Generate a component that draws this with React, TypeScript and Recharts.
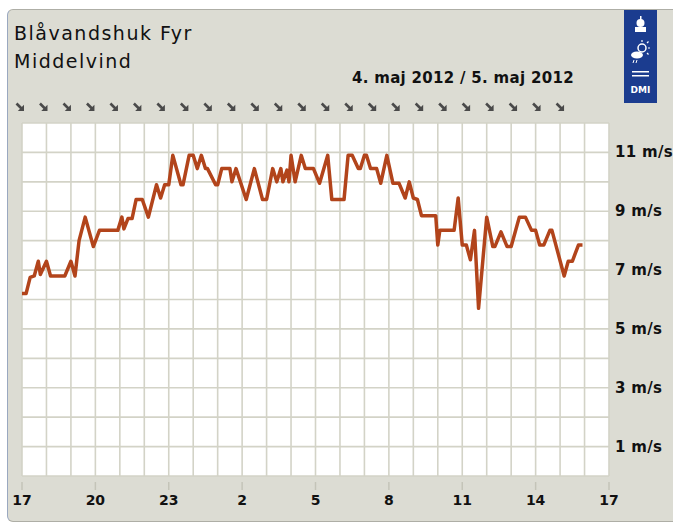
import { LineChart, Line, XAxis, YAxis, CartesianGrid } from "recharts";

const minutes = [
  0, 10, 20, 30, 40, 45, 60, 70, 105, 120,
  130, 140, 155, 175, 190, 235, 245, 250, 260, 270,
  280, 295, 310, 330, 340, 350, 360, 370, 390, 395,
  410, 420, 430, 440, 450, 455, 475, 480, 490, 510,
  515, 525, 550, 570, 590, 600, 615, 625, 635, 640,
  650, 655, 660, 670, 685, 695, 715, 730, 750, 760,
  790, 800, 810, 825, 830, 840, 845, 855, 870, 880,
  895, 910, 925, 940, 950, 960, 970, 980, 1015, 1020,
  1025, 1060, 1070, 1080, 1090, 1100, 1110, 1120, 1140, 1155,
  1160, 1175, 1190, 1200, 1220, 1235, 1250, 1260, 1270, 1280,
  1295, 1300, 1330, 1340, 1350, 1365, 1375,
];

// middelvind, m/s
const speed = [
  6.2, 6.2, 6.75, 6.8, 7.3, 6.85, 7.3, 6.8, 6.8, 7.3,
  6.8, 8.0, 8.8, 7.8, 8.35, 8.35, 8.8, 8.4, 8.75, 8.75,
  9.4, 9.4, 8.8, 9.9, 9.45, 9.9, 9.9, 10.9, 9.9, 9.9,
  10.9, 10.9, 10.45, 10.9, 10.45, 10.45, 9.9, 9.9, 10.45, 10.45,
  10.0, 10.45, 9.4, 10.45, 9.4, 9.4, 10.45, 10.0, 10.45, 10.0,
  10.4, 10.0, 10.9, 10.0, 10.9, 10.45, 10.45, 9.95, 10.9, 9.4,
  9.4, 10.9, 10.9, 10.45, 10.45, 10.9, 10.9, 10.45, 10.45, 9.95,
  10.9, 9.95, 9.95, 9.45, 10.0, 9.45, 9.4, 8.85, 8.85, 7.85,
  8.35, 8.35, 9.45, 7.85, 7.85, 7.35, 8.35, 5.7, 8.8, 7.8,
  7.8, 8.3, 7.8, 7.8, 8.8, 8.8, 8.35, 8.35, 7.85, 7.85,
  8.35, 8.35, 6.8, 7.3, 7.3, 7.85, 7.85,
];

const hourTicks = [0, 3, 6, 9, 12, 15, 18, 21, 24];
const hourLabels = ["17", "20", "23", "2", "5", "8", "11", "14", "17"];
const gridHours = [0, 1, 2, 3, 4, 5, 6, 7, 8, 9, 10, 11, 12, 13, 14, 15, 16, 17, 18, 19, 20, 21, 22, 23, 24];
const gridSpeeds = [0, 1, 2, 3, 4, 5, 6, 7, 8, 9, 10, 11, 12];
const speedTicks = [1, 3, 5, 7, 9, 11];

// wind direction (from), one per hour slot
const dirSlots = [0, 1, 2, 3, 4, 5, 6, 7, 8, 9, 10, 11, 12, 13, 14, 15, 16, 17, 18, 19, 20, 21, 22, 23];
const windFrom = [315, 315, 315, 315, 315, 315, 315, 315, 315, 315, 315, 315, 315, 315, 315, 315, 315, 315, 315, 315, 315, 315, 315, 315];

const data = minutes.map((m, i) => ({ t: m / 60, v: speed[i] }));

const FONT = '"DejaVu Sans", sans-serif';
const GRID = "#d3d3c7";

function HourTick(props: any) {
  const { x, y, index } = props;
  return (
    <g>
      <line x1={x} x2={x} y1={y + 6} y2={y + 14} stroke="#c4c4b8" strokeWidth={1.5} />
      <text
        x={x}
        y={y + 29}
        textAnchor="middle"
        fontFamily={FONT}
        fontWeight="bold"
        fontSize={14}
        fill="#111"
      >
        {hourLabels[index]}
      </text>
    </g>
  );
}

function SpeedTick(props: any) {
  const { x, y, payload } = props;
  return (
    <text
      x={x + 6}
      y={y + 5}
      textAnchor="start"
      fontFamily={FONT}
      fontWeight="bold"
      fontSize={15}
      letterSpacing={0.3}
      fill="#111"
    >
      {payload.value} m/s
    </text>
  );
}

function ArrowTick(props: any) {
  const { x, index } = props;
  const rot = windFrom[index] - 315;
  return (
    <g transform={`translate(${x - 2},107) rotate(${rot})`}>
      <line x1={-3.5} y1={-3.5} x2={1.5} y2={1.5} stroke="#4a4a4a" strokeWidth={2.6} />
      <polygon points="4,4 4,-2.2 -2.2,4" fill="#4a4a4a" />
    </g>
  );
}

function Logo() {
  return (
    <svg
      width={33}
      height={93}
      style={{ position: "absolute", left: 624, top: 10 }}
    >
      <rect x={0} y={0} width={33} height={93} fill="#1b3c8f" />
      {/* crown */}
      <rect x={11} y={17} width={11} height={5} fill="#fff" />
      <circle cx={16.5} cy={13} r={4} fill="#fff" />
      <rect x={16} y={6} width={1.5} height={4} fill="#fff" />
      {/* sun and cloud */}
      <circle cx={18} cy={38} r={4} fill="none" stroke="#fff" strokeWidth={1.5} />
      <line x1={18} y1={30} x2={18} y2={32} stroke="#fff" strokeWidth={1.2} />
      <line x1={24} y1={38} x2={26} y2={38} stroke="#fff" strokeWidth={1.2} />
      <line x1={23} y1={33} x2={24.5} y2={31.5} stroke="#fff" strokeWidth={1.2} />
      <line x1={23} y1={43} x2={24.5} y2={44.5} stroke="#fff" strokeWidth={1.2} />
      <ellipse cx={13} cy={45} rx={6} ry={3.5} fill="#fff" />
      <line x1={10} y1={50} x2={9} y2={53} stroke="#fff" strokeWidth={1} />
      <line x1={13} y1={50} x2={12} y2={53} stroke="#fff" strokeWidth={1} />
      {/* waves */}
      <rect x={8} y={61} width={17} height={1.5} fill="#fff" />
      <rect x={8} y={65} width={17} height={1.5} fill="#fff" />
      <text
        x={16.5}
        y={83}
        textAnchor="middle"
        fontFamily={FONT}
        fontWeight="bold"
        fontSize={9}
        fill="#fff"
      >
        DMI
      </text>
    </svg>
  );
}

export default function App() {
  return (
    <div style={{ position: "fixed", left: 0, top: 0, width: 673, height: 523, overflow: "hidden", background: "#fff" }}>
      <div
        style={{
          position: "absolute",
          left: 7,
          top: 9,
          width: 700,
          height: 511,
          background: "#dcdcd3",
          borderTop: "1px solid #aeaea6",
          borderBottom: "1px solid #aeaea6",
          borderLeft: "1.5px solid #9aa8c0",
          borderRight: "none",
          borderTopLeftRadius: 6,
          borderBottomLeftRadius: 6,
        }}
      />
      <svg width={673} height={100} style={{ position: "absolute", left: 0, top: 0 }}>
        <text x={14} y={40} fontFamily={FONT} fontSize={19} letterSpacing={1.5} fill="#111">
          Blåvandshuk Fyr
        </text>
        <text x={14} y={68} fontFamily={FONT} fontSize={19} letterSpacing={1.5} fill="#111">
          Middelvind
        </text>
        <text x={352} y={83} fontFamily={FONT} fontWeight="bold" fontSize={15} letterSpacing={0.3} fill="#111">
          4. maj 2012 / 5. maj 2012
        </text>
      </svg>
      <Logo />
      <div style={{ position: "absolute", left: 0, top: 0 }}>
        <LineChart
          width={673}
          height={523}
          data={data}
          margin={{ top: 93, right: 0, bottom: 0, left: 22 }}
        >
          <CartesianGrid
            stroke={GRID}
            strokeWidth={1.6}
            fill="#fff"
            verticalValues={gridHours}
            horizontalValues={gridSpeeds}
          />
          <XAxis
            dataKey="t"
            type="number"
            domain={[0, 24]}
            ticks={hourTicks}
            interval={0}
            height={47}
            axisLine={false}
            tickLine={false}
            tickSize={0}
            tickMargin={0}
            tick={<HourTick />}
          />
          <XAxis
            xAxisId="dir"
            dataKey="t"
            orientation="top"
            type="number"
            domain={[0, 25]}
            allowDataOverflow
            ticks={dirSlots}
            interval={0}
            height={30}
            axisLine={false}
            tickLine={false}
            tickSize={0}
            tickMargin={0}
            tick={<ArrowTick />}
          />
          <YAxis
            orientation="right"
            type="number"
            domain={[0, 12]}
            ticks={speedTicks}
            interval={0}
            width={64}
            axisLine={false}
            tickLine={false}
            tickSize={0}
            tickMargin={0}
            tick={<SpeedTick />}
          />
          <Line
            type="linear"
            dataKey="v"
            stroke="#b2441b"
            strokeWidth={3.5}
            strokeLinejoin="round"
            dot={false}
            isAnimationActive={false}
          />
        </LineChart>
      </div>
    </div>
  );
}
